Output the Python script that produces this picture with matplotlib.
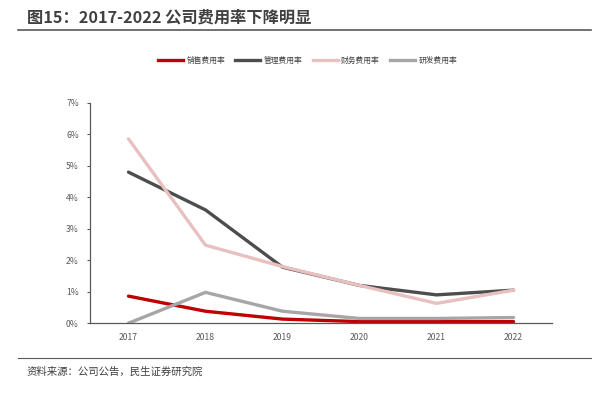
import matplotlib
matplotlib.use("Agg")
import matplotlib.pyplot as plt
from matplotlib.lines import Line2D
from matplotlib.ticker import FuncFormatter

plt.rcParams['font.family'] = ['Noto Sans CJK SC', 'DejaVu Sans']

# data (%)
years = ['2017', '2018', '2019', '2020', '2021', '2022']
sales = [0.86, 0.38, 0.13, 0.05, 0.05, 0.05]
admin = [4.8, 3.6, 1.78, 1.2, 0.9, 1.05]
finance = [5.86, 2.48, 1.8, 1.2, 0.63, 1.05]
rnd = [0.0, 0.98, 0.38, 0.15, 0.15, 0.18]
names = ['销售费用率', '管理费用率', '财务费用率', '研发费用率']
colors = ['#C00000', '#4D4D4D', '#E8C0C0', '#A6A6A6']

fig = plt.figure(figsize=(6.08, 3.99), dpi=100)
ax = fig.add_axes([0.148, 0.19, 0.76, 0.552])

x = range(len(years))
for vals, c, n in zip([sales, admin, finance, rnd], colors, names):
    ax.plot(x, vals, color=c, lw=2.4, label=n, solid_capstyle='round')

ax.set_xlim(-0.5, 5.5)
ax.set_ylim(0, 7)
ax.set_yticks(range(0, 8))
ax.yaxis.set_major_formatter(FuncFormatter(lambda v, p: f'{v:.0f}%'))
ax.set_xticks(list(x))
ax.set_xticklabels(years)
for s in ['top', 'right']:
    ax.spines[s].set_visible(False)
for s in ['left', 'bottom']:
    ax.spines[s].set_color('#595959')
    ax.spines[s].set_linewidth(0.9)
ax.tick_params(axis='y', length=2, width=0.8, color='#595959', labelsize=6.2, labelcolor='#595959', pad=6)
ax.tick_params(axis='x', length=0, labelsize=6.2, labelcolor='#595959', pad=7)

handles = [Line2D([], [], color=c, lw=2.4) for c in colors]
fig.legend(handles, names, loc='center', bbox_to_anchor=(0.506, 0.847), ncol=4,
           frameon=False, fontsize=5.6, handlelength=3.2, handletextpad=0.45,
           columnspacing=1.3, labelcolor='#404040')

fig.text(0.044, 0.955, '图15：2017-2022 公司费用率下降明显', fontsize=11.7,
         fontweight='bold', color='#404040', va='center')
fig.add_artist(Line2D([0.03, 0.972], [0.925, 0.925], color='#595959', lw=1.2))
fig.add_artist(Line2D([0.03, 0.972], [0.104, 0.104], color='#595959', lw=0.8))
fig.text(0.044, 0.068, '资料来源：公司公告，民生证券研究院', fontsize=7.5,
         color='#404040', va='center')

fig.savefig('out.png', dpi=100)
